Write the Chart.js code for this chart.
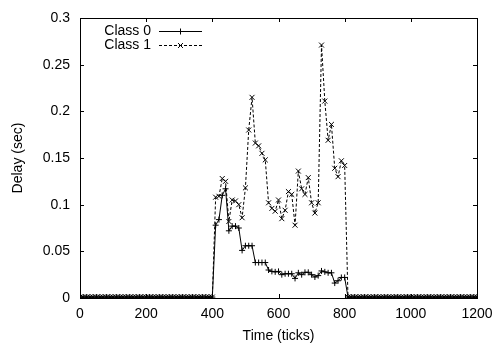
<!DOCTYPE html>
<html>
<head>
<meta charset="utf-8">
<script src="https://cdn.jsdelivr.net/npm/chart.js@4/dist/chart.umd.min.js"></script>
<style>
  html, body { margin: 0; padding: 0; background: #fff; }
  canvas { display: block; }
</style>
</head>
<body>
<canvas id="c" width="493" height="343"></canvas>
<script>
// Simulation time axis: one sample every 10 ticks from 0 to 1200
const timeTicks = Array.from({ length: 121 }, (_, i) => i * 10);

// Idle periods before the burst (0..400) and after it (810..1200)
const class0Idle1 = [0.001,0.001,0.001,0.001,0.001,0.001,0.001,0.001,0.001,0.001,0.001,0.001,0.001,0.001,0.001,0.001,0.001,0.001,0.001,0.001,0.001,0.001,0.001,0.001,0.001,0.001,0.001,0.001,0.001,0.001,0.001,0.001,0.001,0.001,0.001,0.001,0.001,0.001,0.001,0.001,0.001];
const class0Idle2 = [0.001,0.001,0.001,0.001,0.001,0.001,0.001,0.001,0.001,0.001,0.001,0.001,0.001,0.001,0.001,0.001,0.001,0.001,0.001,0.001,0.001,0.001,0.001,0.001,0.001,0.001,0.001,0.001,0.001,0.001,0.001,0.001,0.001,0.001,0.001,0.001,0.001,0.001,0.001,0.001];
const class1Idle1 = [0.001,0.001,0.001,0.001,0.001,0.001,0.001,0.001,0.001,0.001,0.001,0.001,0.001,0.001,0.001,0.001,0.001,0.001,0.001,0.001,0.001,0.001,0.001,0.001,0.001,0.001,0.001,0.001,0.001,0.001,0.001,0.001,0.001,0.001,0.001,0.001,0.001,0.001,0.001,0.001,0.001];
const class1Idle2 = [0.001,0.001,0.001,0.001,0.001,0.001,0.001,0.001,0.001,0.001,0.001,0.001,0.001,0.001,0.001,0.001,0.001,0.001,0.001,0.001,0.001,0.001,0.001,0.001,0.001,0.001,0.001,0.001,0.001,0.001,0.001,0.001,0.001,0.001,0.001,0.001,0.001,0.001,0.001,0.001];

// Delays during the burst, ticks 410..800
const class0Burst = [
  0.078, 0.084, 0.110, 0.117,
  0.072, 0.077, 0.077, 0.075,
  0.051, 0.056, 0.056, 0.056,
  0.038, 0.038, 0.038, 0.038,
  0.030, 0.0285, 0.028, 0.0285,
  0.025, 0.026, 0.026, 0.026,
  0.021, 0.027, 0.025, 0.0275,
  0.0275, 0.025, 0.0225, 0.024,
  0.029, 0.028, 0.027, 0.027,
  0.016, 0.0185, 0.022, 0.022
];
const class1Burst = [
  0.108, 0.109, 0.128, 0.125,
  0.082, 0.105, 0.104, 0.100,
  0.086, 0.118, 0.180, 0.215,
  0.166, 0.163, 0.155, 0.148,
  0.102, 0.096, 0.093, 0.105,
  0.085, 0.094, 0.114, 0.111,
  0.078, 0.136, 0.117, 0.111,
  0.129, 0.102, 0.091, 0.102,
  0.271, 0.211, 0.169, 0.186,
  0.139, 0.130, 0.147, 0.142
];

const class0Delay = [...class0Idle1, ...class0Burst, ...class0Idle2];
const class1Delay = [...class1Idle1, ...class1Burst, ...class1Idle2];

const xTickValues = [0, 200, 400, 600, 800, 1000, 1200];
const yTickValues = [0, 0.05, 0.1, 0.15, 0.2, 0.25, 0.3];

const FONT = '"Liberation Sans", Arial, Helvetica, sans-serif';
const toPoints = (vals) => vals.map((v, i) => ({ x: timeTicks[i], y: v }));

// Frame with inward tick marks on all four sides
const framePlugin = {
  id: 'frame',
  afterDatasetsDraw(chart) {
    const { ctx, chartArea: a, scales } = chart;
    const len = 4;
    ctx.save();
    ctx.strokeStyle = '#000';
    ctx.lineWidth = 1;
    ctx.beginPath();
    xTickValues.forEach(v => {
      const px = Math.round(scales.x.getPixelForValue(v)) + 0.5;
      ctx.moveTo(px, a.bottom); ctx.lineTo(px, a.bottom - len);
      ctx.moveTo(px, a.top); ctx.lineTo(px, a.top + len);
    });
    yTickValues.forEach(v => {
      const py = Math.round(scales.y.getPixelForValue(v)) + 0.5;
      ctx.moveTo(a.left, py); ctx.lineTo(a.left + len, py);
      ctx.moveTo(a.right, py); ctx.lineTo(a.right - len, py);
    });
    ctx.stroke();
    ctx.strokeRect(Math.round(a.left) + 0.5, Math.round(a.top) + 0.5,
                   Math.round(a.right - a.left), Math.round(a.bottom - a.top));
    ctx.restore();
  }
};

// Key in the upper left: label, then a line sample with its marker
const keyPlugin = {
  id: 'key',
  afterDraw(chart) {
    const { ctx } = chart;
    const textRight = 151, lineStart = 159, lineEnd = 202;
    const rows = [31, 45];
    ctx.save();
    ctx.font = '14px ' + FONT;
    ctx.fillStyle = '#000';
    ctx.textAlign = 'right';
    ctx.textBaseline = 'middle';
    chart.data.datasets.forEach((ds, i) => {
      const y = rows[i];
      ctx.fillText(ds.label, textRight, y);
      ctx.strokeStyle = ds.borderColor;
      ctx.lineWidth = ds.borderWidth;
      ctx.setLineDash(ds.borderDash || []);
      ctx.beginPath();
      ctx.moveTo(lineStart, y + 0.5);
      ctx.lineTo(lineEnd, y + 0.5);
      ctx.stroke();
      ctx.setLineDash([]);
      Chart.helpers.drawPoint(ctx, {
        pointStyle: ds.pointStyle, radius: ds.pointRadius,
        borderWidth: ds.pointBorderWidth, rotation: 0
      }, (lineStart + lineEnd) / 2, y + 0.5);
    });
    ctx.restore();
  }
};

new Chart(document.getElementById('c'), {
  type: 'line',
  data: {
    datasets: [
      {
        label: 'Class 0',
        data: toPoints(class0Delay),
        borderColor: '#000',
        backgroundColor: '#000',
        borderWidth: 1,
        pointStyle: 'cross',
        pointRadius: 3,
        pointBorderWidth: 1,
        pointBorderColor: '#000',
        tension: 0,
        fill: false
      },
      {
        label: 'Class 1',
        data: toPoints(class1Delay),
        borderColor: '#000',
        backgroundColor: '#000',
        borderWidth: 1,
        borderDash: [3, 2],
        pointStyle: 'crossRot',
        pointRadius: 3.5,
        pointBorderWidth: 1,
        pointBorderColor: '#000',
        tension: 0,
        fill: false
      }
    ]
  },
  options: {
    responsive: false,
    animation: false,
    events: [],
    layout: { padding: { top: 18, right: 16, left: 0, bottom: 0 } },
    plugins: { legend: { display: false }, tooltip: { enabled: false } },
    scales: {
      x: {
        type: 'linear',
        min: 0, max: 1200,
        afterFit: (s) => { s.height = 45; s.paddingLeft = 0; s.paddingRight = 0; },
        afterBuildTicks: (s) => { s.ticks = xTickValues.map(v => ({ value: v })); },
        grid: { display: false, drawTicks: false },
        border: { display: false },
        ticks: {
          color: '#000', padding: 8,
          font: { family: FONT, size: 14 },
          callback: (v) => String(v),
          maxRotation: 0
        },
        title: {
          display: true, text: 'Time (ticks)', color: '#000',
          font: { family: FONT, size: 14 },
          padding: { top: 0, bottom: -2 }
        }
      },
      y: {
        min: 0, max: 0.3,
        afterFit: (s) => { s.width = 80; s.paddingTop = 0; s.paddingBottom = 0; },
        afterBuildTicks: (s) => { s.ticks = yTickValues.map(v => ({ value: v })); },
        grid: { display: false, drawTicks: false },
        border: { display: false },
        ticks: {
          color: '#000', padding: 10,
          font: { family: FONT, size: 14 },
          callback: (v) => String(Number(v.toFixed(2)))
        },
        title: {
          display: true, text: 'Delay (sec)', color: '#000',
          font: { family: FONT, size: 14 },
          padding: { top: 10, bottom: 0 }
        }
      }
    }
  },
  plugins: [framePlugin, keyPlugin]
});
</script>
</body>
</html>
